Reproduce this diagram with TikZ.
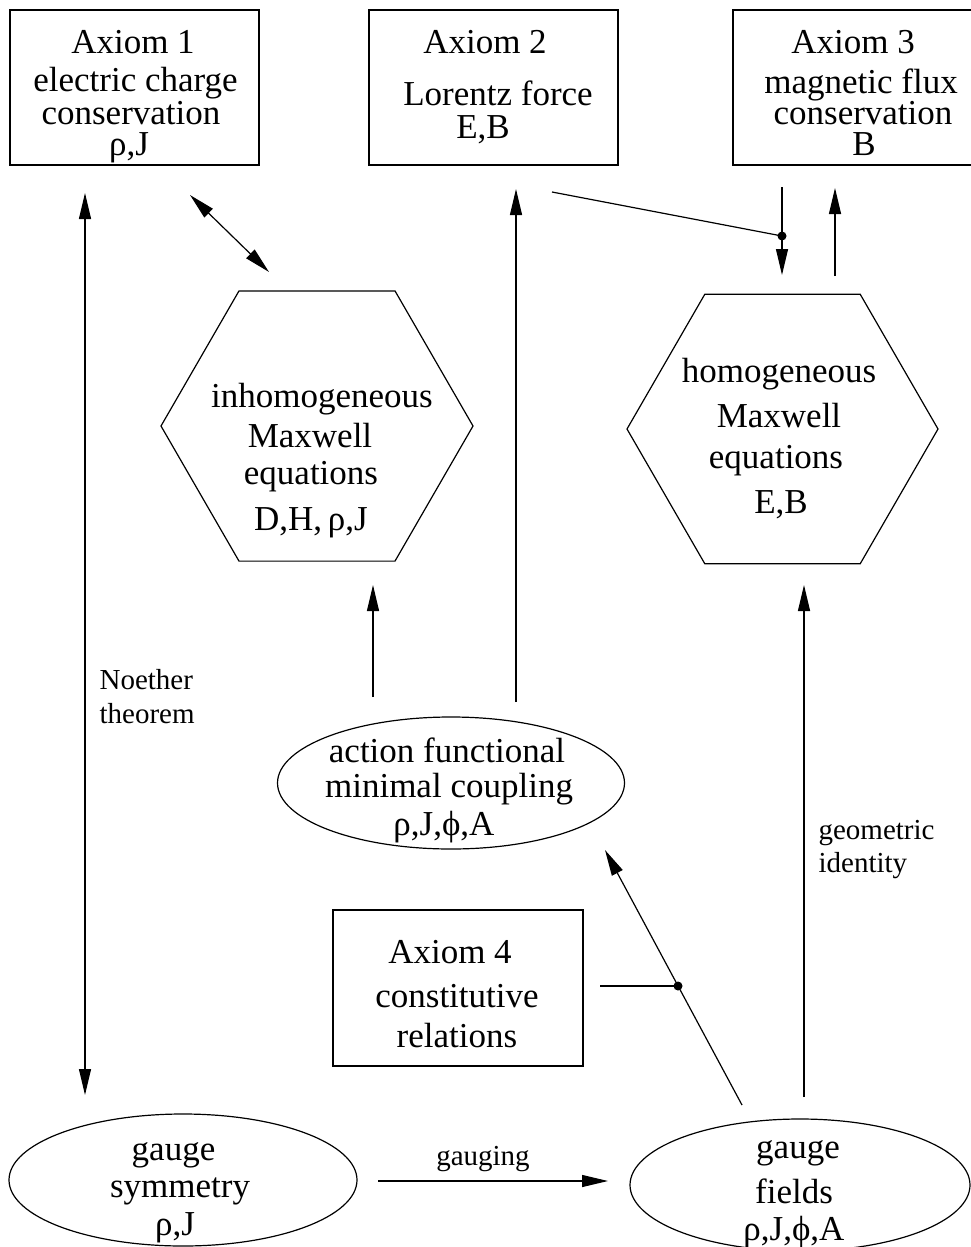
\documentclass[tikz,border=0pt]{standalone}
\usepackage{fontspec}
\setmainfont{Liberation Serif}
\usetikzlibrary{arrows.meta,shapes.geometric}
\begin{document}
\begin{tikzpicture}[x=1pt,y=-1pt,line width=1.2pt,
  >={Triangle[length=26pt,width=12pt]},
  box/.style={draw,rectangle,inner sep=0pt,outer sep=0pt},
  hexa/.style={draw,regular polygon,regular polygon sides=6,inner sep=0pt,outer sep=0pt},
  oval/.style={draw,ellipse,inner sep=0pt,outer sep=0pt},
  big/.style={font=\fontsize{35}{40}\selectfont,inner sep=0pt,anchor=base},
  small/.style={font=\fontsize{29}{34}\selectfont,inner sep=0pt,anchor=base west},
  smallc/.style={font=\fontsize{29}{34}\selectfont,inner sep=0pt,anchor=base},
  dotnode/.style={circle,fill,inner sep=0pt,minimum size=9pt}
]
\useasboundingbox (0,0) rectangle (970,1247);

% ---------- boxes ----------
\node[box,minimum width=249pt,minimum height=155pt] (ax1) at (134.5,87.5) {};
\node[big] (ax1a) at (133,54) {Axiom 1};
\node[big] (ax1b) at (135.5,92) {electric charge};
\node[big] (ax1c) at (131,124) {conservation};
\node[big] (ax1d) at (129,155) {ρ,J};

\node[box,minimum width=249pt,minimum height=155pt] (ax2) at (493.5,87.5) {};
\node[big] (ax2a) at (485,54) {Axiom 2};
\node[big] (ax2b) at (498,105) {Lorentz force};
\node[big] (ax2c) at (483,138) {E,B};

\node[box,minimum width=252pt,minimum height=155pt] (ax3) at (859,87.5) {};
\node[big] (ax3a) at (853,54) {Axiom 3};
\node[big] (ax3b) at (861,93) {magnetic flux};
\node[big] (ax3c) at (863,124) {conservation};
\node[big] (ax3d) at (864,155) {B};

\node[box,minimum width=250pt,minimum height=156pt] (ax4) at (458,988) {};
\node[big] (ax4a) at (450,963) {Axiom 4};
\node[big] (ax4b) at (457,1007) {constitutive};
\node[big] (ax4c) at (457,1047) {relations};

% ---------- hexagons ----------
\node[hexa,minimum size=312pt] (inh) at (317,426) {};
\node[big] (inha) at (322,407) {inhomogeneous};
\node[big] (inhb) at (310,447) {Maxwell};
\node[big] (inhc) at (311,484) {equations};
\node[big] (inhd) at (311,530) {D,H,\,ρ,J};

\node[hexa,minimum size=311pt] (hom) at (782.5,429) {};
\node[big] (homa) at (779,382) {homogeneous};
\node[big] (homb) at (779,427) {Maxwell};
\node[big] (homc) at (776,468) {equations};
\node[big] (homd) at (781,513) {E,B};

% ---------- ellipses ----------
\node[oval,minimum width=347pt,minimum height=132pt] (act) at (451,783) {};
\node[big] (acta) at (447,762) {action functional};
\node[big] (actb) at (449,797) {minimal coupling};
\node[big] (actc) at (444,835) {ρ,J,ϕ,A};

\node[oval,minimum width=348pt,minimum height=132pt] (gsym) at (183,1180) {};
\node[big] (gsyma) at (173.5,1160) {gauge};
\node[big] (gsymb) at (180,1197) {symmetry};
\node[big] (gsymc) at (175,1235) {ρ,J};

\node[oval,minimum width=340pt,minimum height=132pt] (gfld) at (800,1185) {};
\node[big] (gflda) at (798,1158) {gauge};
\node[big] (gfldb) at (794,1203) {fields};
\node[big] (gfldc) at (794,1240) {ρ,J,ϕ,A};

% ---------- labels ----------
\node[small] (noe1) at (99,689) {Noether};
\node[small] (noe2) at (99,723) {theorem};
\node[small] (geo1) at (818,839) {geometric};
\node[small] (geo2) at (818,872) {identity};
\node[smallc] (gaug) at (483,1165) {gauging};

% ---------- connector ends ----------
\coordinate (noeT) at (85,193);
\coordinate (noeB) at (85,1095);
\coordinate (dA) at (190,195);
\coordinate (dB) at (269,272);
\coordinate (lfT) at (516,189);
\coordinate (lfB) at (516,702);
\coordinate (inT) at (373,585);
\coordinate (inB) at (373,697);
\coordinate (lzS) at (552,192);
\coordinate (f3T) at (782,187);
\coordinate (f3B) at (782,275);
\coordinate (h3B) at (835,276);
\coordinate (h3T) at (835,188);
\coordinate (geT) at (804,585);
\coordinate (geB) at (804,1097);
\coordinate (gfT) at (742,1105);
\coordinate (acB) at (605,850);
\coordinate (c4R) at (600,986);
\coordinate (gsR) at (378,1181);
\coordinate (gfL) at (608,1181);

\node[dotnode] (dot1) at (782,236) {};
\node[dotnode] (dot2) at (678,986) {};

% ---------- connectors ----------
\draw[<->] (noeT) -- (noeB);
\draw[<->] (dA) -- (dB);
\draw[->] (lfB) -- (lfT);
\draw[->] (inB) -- (inT);
\draw (lzS) -- (dot1.center);
\draw[->] (f3T) -- (f3B);
\draw[->] (h3B) -- (h3T);
\draw[->] (geB) -- (geT);
\draw[->] (gfT) -- (acB);
\draw (c4R) -- (dot2.center);
\draw[->] (gsR) -- (gfL);
\end{tikzpicture}
\end{document}
